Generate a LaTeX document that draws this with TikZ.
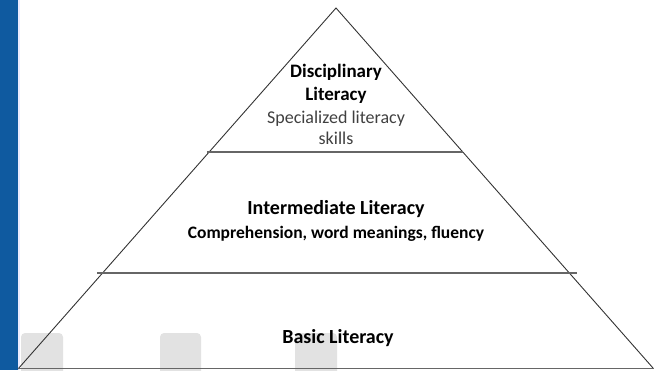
\documentclass[tikz,border=0pt]{standalone}
\usepackage{fontspec}
\setmainfont{Carlito}
\definecolor{slideblue}{HTML}{0F5AA0}
\definecolor{tabgrey}{HTML}{E2E2E2}

\begin{document}
\begin{tikzpicture}[x=1pt,y=-1pt,
    tier/.style={font=\bfseries\fontsize{20}{23}\selectfont, align=center},
    sub/.style={font=\fontsize{18}{20.5}\selectfont, text=black!75, align=center}]
 		\useasboundingbox (0,0) rectangle (654,370);
 		\fill [slideblue] (0,0) rectangle (18,370);
 		\fill [blue!8] (18,0) rectangle (20,370);
 		\fill [tabgrey, rounded corners=4pt] (21,333) rectangle (63,375);
 		\fill [tabgrey, rounded corners=4pt] (160,333) rectangle (201,375);
 		\fill [tabgrey, rounded corners=4pt] (295,333) rectangle (337,375);
 		\clip (0,0) rectangle (654,370);
 		
 		\draw [black!80, line width=0.9pt] (18,369) -- (336,8) -- (653,368);
 		\draw [black!60, line width=1.2pt] (18,368.5) -- (654,368.5);
 		\draw [black!60, line width=1.2pt] (97,273) -- (577,273);
 		\draw [black!60, line width=1.2pt] (207,152) -- (463,152);
 		
 		\node [tier, font=\bfseries\fontsize{19}{23}\selectfont] (disc) at (336,84) {Disciplinary\\Literacy};
 		\node [sub] (spec) at (336,128) {Specialized literacy\\skills};
 		\node [tier] (inter) at (336,209) {Intermediate Literacy};
 		\node [tier, font=\bfseries\fontsize{17.5}{21}\selectfont] (comp) at (336,234) {Comprehension, word meanings, fluency};
 		\node [tier] (basic) at (338,338) {Basic Literacy};
\end{tikzpicture}
\end{document}
